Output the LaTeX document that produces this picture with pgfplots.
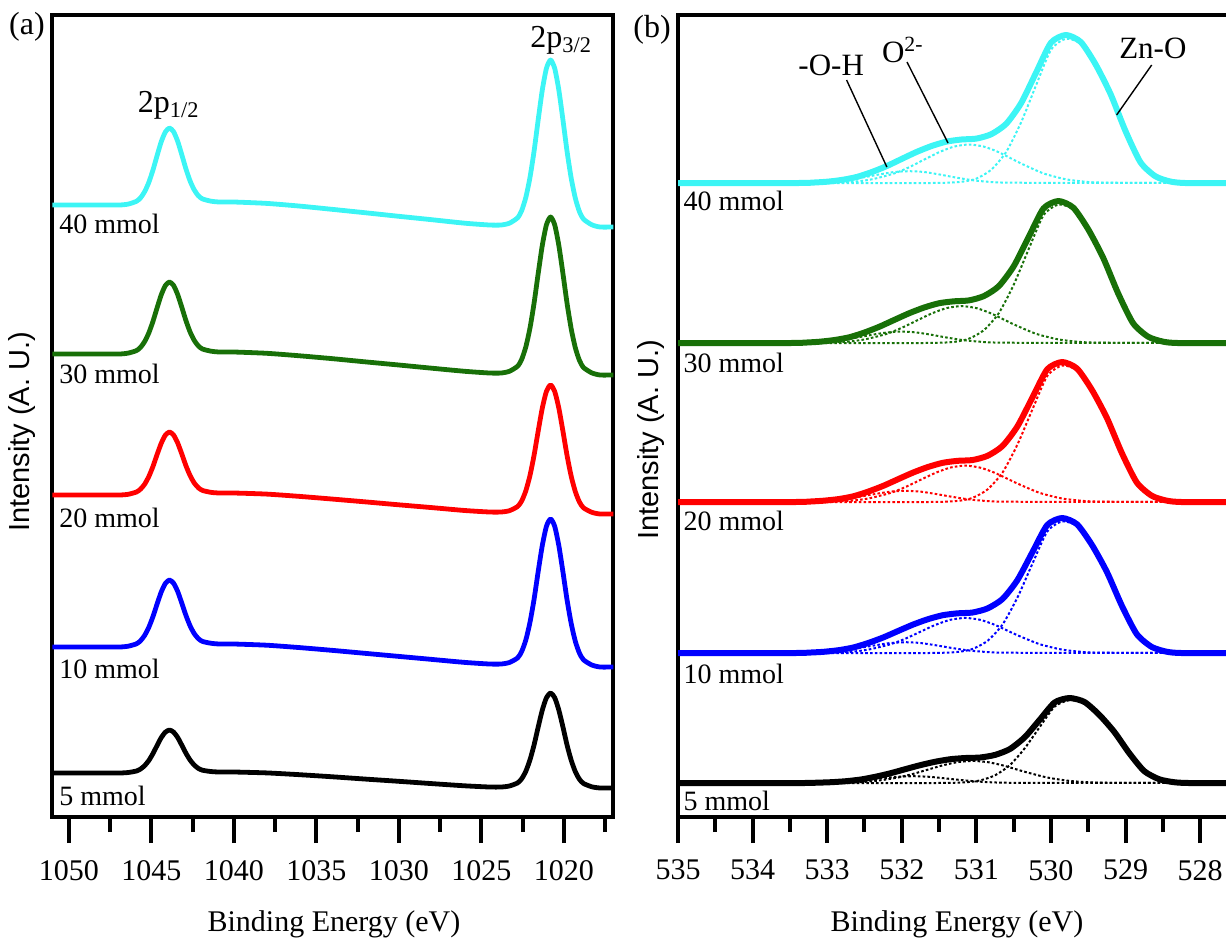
\documentclass[border=0pt]{standalone}
\usepackage{fontspec}
\setmainfont{Liberation Serif}
\newfontfamily\sansf{Liberation Sans}
\usepackage{pgfplots}
\usepackage{pgfplotstable}
\pgfplotsset{compat=1.18}

\definecolor{cy}{RGB}{60,245,245}
\definecolor{gr}{RGB}{24,112,8}
\definecolor{rd}{RGB}{255,0,0}
\definecolor{bl}{RGB}{0,0,255}

% Zn 2p spectra (y = vertical position, increasing downward)
\pgfplotstableread{
x c40 c30 c20 c10 c5
1051 205 354 495 647 773
1049 205 354 495 647 773
1047.5 205 354 495 647 773
1046.9 205 354 495 647 773
1046.4 204.1 353.1 494.3 646.2 772.5
1045.9 201.3 350.6 492.0 643.8 771.0
1045.65 197.8 347.3 489.1 640.7 769.0
1045.4 191.6 341.5 484.1 635.3 765.6
1045.15 182.4 332.9 476.5 627.3 760.5
1044.9 170.1 321.4 466.5 616.6 753.6
1044.65 155.7 307.9 454.6 604.1 745.5
1044.4 141.9 295.0 443.4 592.1 737.7
1044.15 132.0 285.6 435.2 583.5 732.2
1043.9 128.0 282.0 432.0 580.0 730.0
1043.65 131.7 285.4 435.0 583.2 732.1
1043.4 141.3 294.6 443.0 591.5 737.5
1043.15 154.8 307.3 454.0 603.2 745.2
1042.9 168.9 320.6 465.7 615.4 753.2
1042.65 180.9 331.9 475.5 625.8 760.0
1042.4 189.8 340.3 482.9 633.5 765.0
1042.15 195.7 345.9 487.7 638.6 768.4
1041.9 198.9 349.0 490.4 641.4 770.2
1041.4 201.1 351.1 492.3 643.2 771.5
1040.9 202 352 493 644 772
1040 202 352 493 644 772
1038 203.4 353.3 494.1 645.2 772.9
1036 206.1 355.8 496.4 647.6 774.7
1034 209.4 358.7 499.1 650.4 776.8
1032 212.8 361.9 501.9 653.4 779.1
1030 216.3 365.0 504.8 656.4 781.3
1028 219.7 368.2 507.6 659.4 783.6
1026 223.2 371.3 510.5 662.4 785.8
1024.5 225 373 512 664 787
1023.8 225 373 512 664 787
1023.3 223.2 371.3 510.7 662.5 786.0
1022.8 217.8 366.2 506.5 657.9 782.9
1022.55 210.5 359.3 500.9 651.4 778.7
1022.3 197.3 346.8 490.7 639.9 771.2
1022.05 177.5 328.1 475.5 622.4 759.9
1021.8 151.0 303.0 455.1 599.1 744.8
1021.55 119.6 273.3 430.9 571.3 726.9
1021.3 89.7 245.1 407.8 545.2 709.9
1021.05 68.2 224.7 391.3 526.2 697.7
1020.8 60.0 217.0 385.0 519.0 693.0
1020.55 68.4 224.9 391.5 526.4 697.7
1020.3 90.1 245.5 408.2 545.7 710.1
1020.05 120.1 273.8 431.4 572.1 727.1
1019.8 151.6 303.6 455.7 600.1 745.2
1019.55 178.3 328.9 476.3 623.6 760.3
1019.3 198.3 347.8 491.7 641.4 771.7
1019.05 211.7 360.5 502.1 653.2 779.3
1018.8 219.2 367.6 507.9 659.9 783.5
1018.3 224.8 372.9 512.3 665.0 786.8
1017.8 227 375 514 667 788
1017.0 227 375 514 667 788
}\znTable

\begin{document}
\begin{tikzpicture}
\useasboundingbox (0,0) rectangle (613pt,469pt);
\pgfplotsset{xps/.style={
  scale only axis, anchor=south west, height=401pt,
  x dir=reverse, y dir=reverse, ymin=15, ymax=817, ytick=\empty,
  tick align=outside, xtick pos=left,
  major tick length=13pt, minor tick length=7.5pt,
  tick style={black, line width=2pt},
  axis line style={line width=1.8pt},
  clip=false,
  xticklabel style={font=\fontsize{15}{18}\selectfont, yshift=-5pt},
}}
\tikzset{lab/.style={anchor=base west, inner sep=0pt, font=\fontsize{14}{17}\selectfont},
         ann/.style={anchor=base west, inner sep=0pt, font=\fontsize{15.5}{18}\selectfont}}
\pgfplotsset{znline/.style={line width=2.4pt, smooth, tension=0.4, line join=round}}
\pgfplotsset{oline/.style={line width=3pt, smooth, tension=0.4, line join=round}}
\pgfplotsset{comp/.style={line width=1pt, dash pattern=on 1.3pt off 1.1pt, smooth, tension=0.4}}

% ---------------- panel (a) ----------------
\begin{axis}[xps, name=a, at={(26.15pt,60.5pt)}, width=280.5pt,
  xmin=1017, xmax=1051, xtick={1020,1025,1030,1035,1040,1045,1050},
  xticklabels={1020,1025,1030,1035,1040,1045,1050},
  minor xtick={1017.5,1022.5,1027.5,1032.5,1037.5,1042.5,1047.5}]
\addplot[cy, znline] table[x=x, y=c40] {\znTable};
\addplot[gr, znline] table[x=x, y=c30] {\znTable};
\addplot[rd, znline] table[x=x, y=c20] {\znTable};
\addplot[bl, znline] table[x=x, y=c10] {\znTable};
\addplot[black, znline] table[x=x, y=c5] {\znTable};
\node[lab] at (axis cs:1050.6,233) {40 mmol};
\node[lab] at (axis cs:1050.6,383) {30 mmol};
\node[lab] at (axis cs:1050.6,527) {20 mmol};
\node[lab] at (axis cs:1050.6,678) {10 mmol};
\node[lab] at (axis cs:1050.6,805) {5 mmol};
\node[anchor=base west, inner sep=0pt, font=\fontsize{16}{19}\selectfont] at (axis cs:1045.84,112) {2p\textsubscript{1/2}};
\node[anchor=base west, inner sep=0pt, font=\fontsize{16}{19}\selectfont] at (axis cs:1022.05,47) {2p\textsubscript{3/2}};
\end{axis}

% ---------------- panel (b) ----------------
\begin{axis}[xps, name=b, at={(339pt,60.5pt)}, width=276pt,
  xmin=527.6, xmax=535, xtick={528,529,530,531,532,533,534,535},
  xticklabels={528,529,530,531,532,533,534,535},
  minor xtick={528.5,529.5,530.5,531.5,532.5,533.5,534.5}]
% 40 mmol
\addplot[cy, oline] coordinates {(527.6,183) (528.2,183) (528.4,181.5) (528.6,176.3) (528.8,162.3) (529.0,131.2) (529.2,94.2) (529.4,64.6) (529.6,42.0) (529.8,35) (530.0,42.7) (530.2,72.7) (530.4,103.1) (530.6,123.8) (530.8,134.2) (531.0,138.6) (531.2,139.5) (531.4,141.6) (531.6,146) (531.8,151.9) (532.0,158.9) (532.2,166) (532.4,172) (532.6,176.9) (532.8,179.9) (533.0,181.7) (533.2,182.6) (533.4,183) (535,183)};
\addplot[cy, comp] coordinates {(528.2,183) (528.6,176.3) (528.8,162.3) (529.0,131.2) (529.2,94.5) (529.4,65.2) (529.6,43.9) (529.8,38.7) (530.0,49.8) (530.2,85.3) (530.4,122.3) (530.6,151.9) (530.8,169.7) (531.0,178.6) (531.2,181.8) (531.6,183) (533.4,183)};
\addplot[cy, comp] coordinates {(528.2,183) (529.2,182.7) (529.5,182) (529.8,179.3) (530.1,173.4) (530.4,163.5) (530.7,152.2) (530.9,146.6) (531.1,144.5) (531.3,146.6) (531.5,152.2) (531.7,159.6) (531.9,167.2) (532.1,173.4) (532.4,179.3) (532.7,182) (533.4,183)};
\addplot[cy, comp] coordinates {(528.2,183) (530.5,182.7) (530.9,181.4) (531.1,179.7) (531.3,177.2) (531.5,174.4) (531.7,172) (531.9,171.2) (532.1,172) (532.3,174.4) (532.5,177.2) (532.7,179.7) (532.9,181.4) (533.1,182.4) (533.4,183)};
% 30 mmol
\addplot[gr, oline] coordinates {(527.6,343) (528.3,343) (528.5,341.6) (528.7,336.6) (528.9,323.1) (529.1,293.3) (529.3,257.8) (529.5,229.4) (529.7,207.7) (529.9,201) (530.1,208.4) (530.3,237.2) (530.5,266.3) (530.7,286.2) (530.9,296.1) (531.1,300.4) (531.3,301.3) (531.5,303.2) (531.7,307.5) (531.9,313.2) (532.1,319.9) (532.3,326.7) (532.5,332.5) (532.7,337.2) (532.9,340) (533.1,341.7) (533.3,342.6) (533.5,343) (535,343)};
\addplot[gr, comp] coordinates {(528.3,343) (528.7,336.6) (528.9,323.1) (529.1,293.3) (529.3,258.1) (529.5,230) (529.7,209.5) (529.9,204.5) (530.1,215.2) (530.3,249.3) (530.5,284.8) (530.7,313.2) (530.9,330.2) (531.1,338.7) (531.3,341.9) (531.7,343) (533.5,343)};
\addplot[gr, comp] coordinates {(528.3,343) (529.3,342.7) (529.6,342) (529.9,339.4) (530.2,333.8) (530.5,324.3) (530.8,313.5) (531.0,308.1) (531.2,306.1) (531.4,308.1) (531.6,313.5) (531.8,320.6) (532.0,327.8) (532.2,333.8) (532.5,339.4) (532.8,342) (533.5,343)};
\addplot[gr, comp] coordinates {(528.3,343) (530.6,342.7) (531.0,341.4) (531.2,339.9) (531.4,337.5) (531.6,334.8) (531.8,332.5) (532.0,331.6) (532.2,332.5) (532.4,334.8) (532.6,337.5) (532.8,339.9) (533.0,341.4) (533.2,342.4) (533.5,343)};
% 20 mmol
\addplot[rd, oline] coordinates {(527.6,502) (528.25,502) (528.45,500.6) (528.65,495.7) (528.85,482.4) (529.05,453) (529.25,418) (529.45,390) (529.65,368.6) (529.85,362) (530.05,369.3) (530.25,397.7) (530.45,426.4) (530.65,446) (530.85,455.8) (531.05,460) (531.25,460.8) (531.45,462.8) (531.65,467) (531.85,472.6) (532.05,479.2) (532.25,485.9) (532.45,491.6) (532.65,496.3) (532.85,499.1) (533.05,500.7) (533.25,501.6) (533.45,502) (535,502)};
\addplot[rd, comp] coordinates {(528.25,502) (528.65,495.7) (528.85,482.4) (529.05,453) (529.25,418.3) (529.45,390.6) (529.65,370.4) (529.85,365.5) (530.05,376) (530.25,409.6) (530.45,444.6) (530.65,472.6) (530.85,489.4) (531.05,497.8) (531.25,500.9) (531.65,502) (533.45,502)};
\addplot[rd, comp] coordinates {(528.25,502) (529.25,501.7) (529.55,501) (529.85,498.5) (530.15,492.9) (530.45,483.5) (530.75,472.9) (530.95,467.6) (531.15,465.6) (531.35,467.6) (531.55,472.9) (531.75,479.9) (531.95,487) (532.15,492.9) (532.45,498.5) (532.75,501) (533.45,502)};
\addplot[rd, comp] coordinates {(528.25,502) (530.55,501.7) (530.95,500.5) (531.15,498.9) (531.35,496.5) (531.55,493.9) (531.75,491.6) (531.95,490.8) (532.15,491.6) (532.35,493.9) (532.55,496.5) (532.75,498.9) (532.95,500.5) (533.15,501.4) (533.45,502)};
% 10 mmol
\addplot[bl, oline] coordinates {(527.6,653) (528.25,653) (528.45,651.7) (528.65,646.9) (528.85,634.1) (529.05,605.7) (529.25,572) (529.45,545) (529.65,524.3) (529.85,518) (530.05,525) (530.25,552.4) (530.45,580.1) (530.65,599) (530.85,608.4) (531.05,612.5) (531.25,613.3) (531.45,615.2) (531.65,619.2) (531.85,624.6) (532.05,631) (532.25,637.5) (532.45,643) (532.65,647.5) (532.85,650.2) (533.05,651.8) (533.25,652.6) (533.45,653) (535,653)};
\addplot[bl, comp] coordinates {(528.25,653) (528.65,646.9) (528.85,634.1) (529.05,605.7) (529.25,572.3) (529.45,545.5) (529.65,526.1) (529.85,521.4) (530.05,531.5) (530.25,563.9) (530.45,597.6) (530.65,624.6) (530.85,640.8) (531.05,648.9) (531.25,651.9) (531.65,653) (533.45,653)};
\addplot[bl, comp] coordinates {(528.25,653) (529.25,652.7) (529.55,652.1) (529.85,649.6) (530.15,644.2) (530.45,635.2) (530.75,624.9) (530.95,619.8) (531.15,617.9) (531.35,619.8) (531.55,624.9) (531.75,631.7) (531.95,638.6) (532.15,644.2) (532.45,649.6) (532.75,652.1) (533.45,653)};
\addplot[bl, comp] coordinates {(528.25,653) (530.55,652.7) (530.95,651.5) (531.15,650) (531.35,647.7) (531.55,645.2) (531.75,643) (531.95,642.2) (532.15,643) (532.35,645.2) (532.55,647.7) (532.75,650) (532.95,651.5) (533.15,652.5) (533.45,653)};
% 5 mmol
\addplot[black, oline] coordinates {(527.6,783) (528.15,783) (528.35,782.2) (528.55,779.2) (528.75,771.1) (528.95,753.2) (529.15,732) (529.35,715) (529.55,702) (529.75,698) (529.95,702.4) (530.15,719.7) (530.35,737.1) (530.55,749) (530.75,754.9) (530.95,757.5) (531.15,758) (531.35,759.2) (531.55,761.7) (531.75,765.1) (531.95,769.1) (532.15,773.2) (532.35,776.7) (532.55,779.5) (532.75,781.2) (532.95,782.2) (533.15,782.7) (533.35,783) (535,783)};
\addplot[black, comp] coordinates {(528.15,783) (528.55,779.2) (528.75,771.1) (528.95,753.2) (529.15,732.2) (529.35,715.3) (529.55,703.1) (529.75,700.1) (529.95,706.5) (530.15,726.9) (530.35,748.1) (530.55,765.1) (530.75,775.3) (530.95,780.4) (531.15,782.3) (531.55,783) (533.35,783)};
\addplot[black, comp] coordinates {(528.15,783) (529.15,782.8) (529.45,782.4) (529.75,780.9) (530.05,777.5) (530.35,771.8) (530.65,765.3) (530.85,762.1) (531.05,760.9) (531.25,762.1) (531.45,765.3) (531.65,769.6) (531.85,773.9) (532.05,777.5) (532.35,780.9) (532.65,782.4) (533.35,783)};
\addplot[black, comp] coordinates {(528.15,783) (530.45,782.8) (530.85,782.1) (531.05,781.1) (531.25,779.7) (531.45,778.1) (531.65,776.7) (531.85,776.2) (532.05,776.7) (532.25,778.1) (532.45,779.7) (532.65,781.1) (532.85,782.1) (533.05,782.7) (533.35,783)};
% labels
\node[lab] at (axis cs:534.93,210) {40 mmol};
\node[lab] at (axis cs:534.93,372) {30 mmol};
\node[lab] at (axis cs:534.93,530) {20 mmol};
\node[lab] at (axis cs:534.93,683) {10 mmol};
\node[lab] at (axis cs:534.93,810) {5 mmol};
\node[ann] at (axis cs:533.39,75) {-O-H};
\node[ann] at (axis cs:532.27,62) {O\textsuperscript{2-}};
\node[ann] at (axis cs:529.09,58) {Zn-O};
\draw[line width=0.7pt] (axis cs:532.74,80) -- (axis cs:532.20,167);
\draw[line width=0.7pt] (axis cs:531.93,62) -- (axis cs:531.38,143);
\draw[line width=0.7pt] (axis cs:528.65,65) -- (axis cs:529.12,115);
\end{axis}

% panel letters and axis titles
\node[font=\fontsize{16}{19}\selectfont] at (13.5pt,455.5pt) {(a)};
\node[font=\fontsize{16}{19}\selectfont] at (326pt,454pt) {(b)};
\node[rotate=90, font=\sansf\fontsize{14.5}{17}\selectfont] at (11pt,253pt) {Intensity (A. U.)};
\node[rotate=90, font=\sansf\fontsize{14.5}{17}\selectfont] at (325.5pt,249pt) {Intensity (A. U.)};
\node[font=\fontsize{15}{18}\selectfont] at (167pt,7pt) {Binding Energy (eV)};
\node[font=\fontsize{15}{18}\selectfont] at (478.5pt,7pt) {Binding Energy (eV)};
\end{tikzpicture}
\end{document}
